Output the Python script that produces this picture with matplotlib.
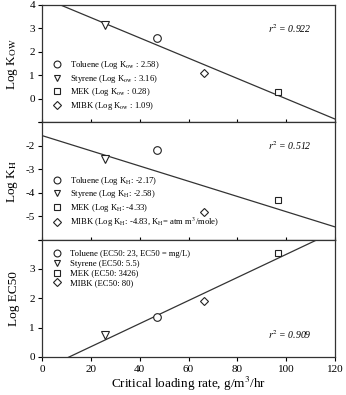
import numpy as np
import matplotlib
matplotlib.use("Agg")
import matplotlib.pyplot as plt

plt.rcParams['font.family'] = ['Liberation Serif', 'DejaVu Serif']
plt.rcParams['mathtext.fontset'] = 'stix'

chemicals = ["Toluene", "Styrene", "MEK", "MIBK"]
loading_rate = [47, 26, 96.5, 66.5]
log_kow = [2.58, 3.16, 0.28, 1.09]
log_kh = [-2.17, -2.58, -4.33, -4.83]
ec50 = [23, 5.5, 3426, 80]
log_ec50 = list(np.log10(ec50))
r2_values = ["0.922", "0.512", "0.909"]

labels_kow = [r"Toluene (Log K$_{\mathrm{ow}}$ : 2.58)", r"Styrene (Log K$_{\mathrm{ow}}$ : 3.16)",
              r"MEK (Log K$_{\mathrm{ow}}$ : 0.28)", r"MIBK (Log K$_{\mathrm{ow}}$ : 1.09)"]
labels_kh = [r"Toluene (Log K$_{\mathrm{H}}$: -2.17)", r"Styrene (Log K$_{\mathrm{H}}$: -2.58)",
             r"MEK (Log K$_{\mathrm{H}}$: -4.33)",
             r"MIBK (Log K$_{\mathrm{H}}$: -4.83, K$_{\mathrm{H}}$= atm m$^{3}$/mole)"]
labels_ec = ["Toluene (EC50: 23, EC50 = mg/L)", "Styrene (EC50: 5.5)",
             "MEK (EC50: 3426)", "MIBK (EC50: 80)"]
markers = ["o", "v", "s", "D"]
msizes = [5.5, 5.5, 5.0, 4.5]

fig = plt.figure(figsize=(3.46, 3.95), dpi=100)
left, right = 42/346, 335/346
top, bottom = 1 - 5/395, 1 - 357/395
h = (top - bottom) / 3

panels = [
    (log_kow, labels_kow, r"Log K$_{\mathrm{OW}}$", (-1, 4), [0, 1, 2, 3, 4], [-1], r2_values[0], 'upper'),
    (log_kh, labels_kh, r"Log K$_{\mathrm{H}}$", (-6, -1), [-5, -4, -3, -2], [-6, -1], r2_values[1], 'upper'),
    (log_ec50, labels_ec, "Log EC50", (0, 4), [0, 1, 2, 3], [4], r2_values[2], 'lower'),
]

for i, (yvals, labels, ylabel, ylim, yt, ytminor, r2, r2pos) in enumerate(panels):
    ax = fig.add_axes([left, top - (i + 1) * h, right - left, h])
    for x, y, m, ms, lab in zip(loading_rate, yvals, markers, msizes, labels):
        ax.plot([x], [y], linestyle='none', marker=m, markersize=ms,
                markerfacecolor='white', markeredgecolor='#222222', markeredgewidth=0.8,
                label=lab, zorder=3)
    slope, intercept = np.polyfit(loading_rate, yvals, 1)
    xs = np.array([0, 120])
    ax.plot(xs, slope * xs + intercept, color='#333333', lw=0.9, zorder=2)
    ax.set_xlim(0, 120)
    ax.set_ylim(*ylim)
    ax.set_yticks(yt + ytminor)
    ax.set_yticklabels([str(t) for t in yt] + [''] * len(ytminor))
    ax.set_xticks([0, 20, 40, 60, 80, 100, 120])
    ax.tick_params(axis='y', direction='out', length=3, width=0.8, labelsize=8, pad=2)
    if i < 2:
        ax.tick_params(axis='x', direction='in', length=2.5, width=0.8, labelbottom=False)
    else:
        ax.tick_params(axis='x', direction='out', length=3, width=0.8, labelsize=8, pad=2.5)
        ax.set_xlabel("Critical loading rate, g/m$^{3}$/hr", fontsize=9.5, labelpad=1)
    for sp in ax.spines.values():
        sp.set_linewidth(0.9)
        sp.set_color('#333333')
    ax.set_ylabel(ylabel, fontsize=9.5)
    ax.yaxis.set_label_coords(-0.075, 0.5)
    if r2pos == 'upper':
        ax.text(0.92, 0.80, f"$r^2$ = {r2}", transform=ax.transAxes, fontsize=7,
                ha='right', va='center', style='italic')
        leg_loc = 'lower left'
        bbox = (0.0, 0.0)
    else:
        ax.text(0.92, 0.19, f"$r^2$ = {r2}", transform=ax.transAxes, fontsize=7,
                ha='right', va='center', style='italic')
        leg_loc = 'upper left'
        bbox = (0.0, 1.0)
    leg = ax.legend(loc=leg_loc, bbox_to_anchor=bbox, frameon=False, fontsize=6.2,
                    handlelength=1.0, handletextpad=1.1, labelspacing=0.2,
                    borderaxespad=0.6, borderpad=0.6, markerscale=0.9)

fig.savefig("out.png", dpi=100)
